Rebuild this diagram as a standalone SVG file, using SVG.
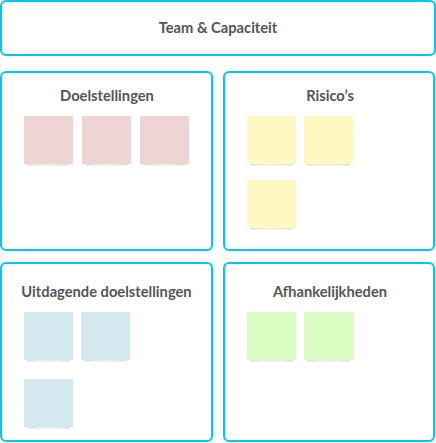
<svg xmlns="http://www.w3.org/2000/svg" width="436" height="443" viewBox="0 0 436 443">
<style>
.frame{fill:#fff;stroke:#00c6f2;stroke-width:2}
.title{font-family:Lato,"Open Sans",sans-serif;font-weight:700;font-size:14.7px;fill:#555;text-anchor:middle}
.pink{fill:#efd4d4}
.yellow{fill:#fff8c2}
.blue{fill:#d4e9ef}
.green{fill:#d9fcc3}
</style>
<defs>
<linearGradient id="sh" x1="0" y1="0" x2="0" y2="1">
<stop offset="0" stop-color="#000" stop-opacity="0.18"/>
<stop offset="1" stop-color="#000" stop-opacity="0"/>
</linearGradient>
<g id="note">
<path d="M3,47.5 Q24.5,49.5 46,47.5 L46,50 Q24.5,51 3,50 Z" fill="url(#sh)"/>
<rect width="49" height="48"/>
</g>
</defs>
<g id="team">
<rect class="frame" x="1" y="1" width="434" height="54" rx="5"/>
<text class="title" x="218" y="33">Team &amp; Capaciteit</text>
</g>
<g id="doelstellingen">
<rect class="frame" x="1" y="72" width="211" height="178" rx="5"/>
<text class="title" x="107" y="101">Doelstellingen</text>
<use href="#note" class="pink" x="24" y="116"/>
<use href="#note" class="pink" x="82" y="116"/>
<use href="#note" class="pink" x="140" y="116"/>
</g>
<g id="risicos">
<rect class="frame" x="224" y="72" width="210" height="178" rx="5"/>
<text class="title" x="330" y="101">Risico’s</text>
<use href="#note" class="yellow" x="247" y="116"/>
<use href="#note" class="yellow" x="304" y="116"/>
<use href="#note" class="yellow" x="247" y="180"/>
</g>
<g id="uitdagende">
<rect class="frame" x="1" y="263" width="211" height="178" rx="5"/>
<text class="title" x="106.5" y="297">Uitdagende doelstellingen</text>
<use href="#note" class="blue" x="24" y="312"/>
<use href="#note" class="blue" x="81" y="312"/>
<use href="#note" class="blue" x="24" y="379"/>
</g>
<g id="afhankelijkheden">
<rect class="frame" x="224" y="263" width="210" height="178" rx="5"/>
<text class="title" x="330" y="297">Afhankelijkheden</text>
<use href="#note" class="green" x="247" y="312"/>
<use href="#note" class="green" x="304" y="312"/>
</g>
<g id="connectors"/>
</svg>
